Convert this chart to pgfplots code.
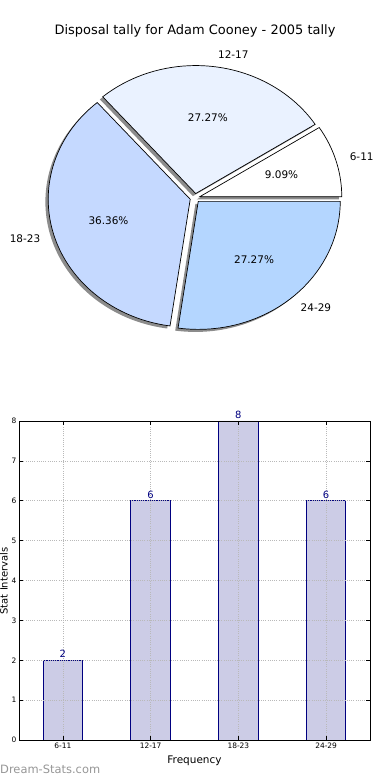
\documentclass[border=0pt]{standalone}
\usepackage{fontspec}
\setmainfont{DejaVu Sans}
\usepackage{pgfplots}
\usepackage{pgfplotstable}
\pgfplotsset{compat=1.18}

\definecolor{pA}{RGB}{255,255,255}
\definecolor{pB}{RGB}{234,242,255}
\definecolor{pC}{RGB}{197,217,255}
\definecolor{pD}{RGB}{180,214,255}
\definecolor{shadowgray}{RGB}{140,140,140}
\definecolor{barfill}{RGB}{204,204,230}
\definecolor{navyc}{RGB}{0,0,128}
\definecolor{gridc}{RGB}{185,185,185}
\definecolor{wmark}{RGB}{150,150,150}

\newcommand\fs[1]{\fontsize{#1}{#1}\selectfont}
\tikzset{pielab/.style={font=\fs{10.5}, inner sep=0pt}}

\pgfplotstableread{
idx label value
0 6-11 2
1 12-17 6
2 18-23 8
3 24-29 6
}\datatable

\newcommand\explode{0.035}
% shadow of a wedge
\newcommand\pieshadow[2]{%
  \pgfmathsetmacro\pmid{(#1+#2)/2}%
  \pgfmathsetmacro\pcx{\explode*cos(\pmid)-0.02}%
  \pgfmathsetmacro\pcy{\explode*sin(\pmid)-0.02}%
  \pgfmathsetmacro\psx{\pcx+cos(#1)}%
  \pgfmathsetmacro\psy{\pcy+sin(#1)}%
  \edef\temp{\noexpand\fill[shadowgray] (axis cs:\pcx,\pcy) -- (axis cs:\psx,\psy) arc[start angle=#1,end angle=#2,x radius=142bp,y radius=128bp] -- cycle;}%
  \temp}
% wedge
\newcommand\piewedge[3]{%
  \pgfmathsetmacro\pmid{(#1+#2)/2}%
  \pgfmathsetmacro\pcx{\explode*cos(\pmid)}%
  \pgfmathsetmacro\pcy{\explode*sin(\pmid)}%
  \pgfmathsetmacro\psx{\pcx+cos(#1)}%
  \pgfmathsetmacro\psy{\pcy+sin(#1)}%
  \edef\temp{\noexpand\filldraw[fill=#3,draw=black,line width=0.7bp,line join=miter] (axis cs:\pcx,\pcy) -- (axis cs:\psx,\psy) arc[start angle=#1,end angle=#2,x radius=142bp,y radius=128bp] -- cycle;}%
  \temp}
% labels: start, end, anchor, label, percent value
\newcommand\pielabel[5]{%
  \pgfmathsetmacro\pmid{(#1+#2)/2}%
  \pgfmathsetmacro\plx{(\explode+1.1)*cos(\pmid)}%
  \pgfmathsetmacro\ply{(\explode+1.1)*sin(\pmid)}%
  \pgfmathsetmacro\ppx{(\explode+0.6)*cos(\pmid)}%
  \pgfmathsetmacro\ppy{(\explode+0.6)*sin(\pmid)}%
  \edef\temp{\noexpand\node[pielab,anchor=#3] at (axis cs:\plx,\ply) {#4};
    \noexpand\node[pielab] at (axis cs:\ppx,\ppy) {\noexpand\pgfmathprintnumber[fixed,precision=2,fixed zerofill,assume math mode=true]{#5}\noexpand\%};}%
  \temp}

\begin{document}
\pgfplotstablegetelem{0}{value}\of\datatable\edef\vA{\pgfplotsretval}%
\pgfplotstablegetelem{1}{value}\of\datatable\edef\vB{\pgfplotsretval}%
\pgfplotstablegetelem{2}{value}\of\datatable\edef\vC{\pgfplotsretval}%
\pgfplotstablegetelem{3}{value}\of\datatable\edef\vD{\pgfplotsretval}%
\pgfmathsetmacro\tot{\vA+\vB+\vC+\vD}%
\pgfmathsetmacro\aA{360*\vA/\tot}%
\pgfmathsetmacro\aB{\aA+360*\vB/\tot}%
\pgfmathsetmacro\aC{\aB+360*\vC/\tot}%
\pgfmathsetmacro\pA{100*\vA/\tot}%
\pgfmathsetmacro\pB{100*\vB/\tot}%
\pgfmathsetmacro\pC{100*\vC/\tot}%
\pgfmathsetmacro\pD{100*\vD/\tot}%
\begin{tikzpicture}[x=1bp,y=1bp]
\path[use as bounding box] (0,0) rectangle (390,780);

% title
\node[anchor=base, font=\fs{13}, inner sep=0pt] at (195,745.5) {Disposal tally for Adam Cooney - 2005 tally};

% pie
\begin{axis}[at={(53bp,454bp)}, anchor=south west, scale only axis,
  width=284bp, height=256bp, xmin=-1, xmax=1, ymin=-1, ymax=1,
  hide axis, clip=false]
  \pieshadow{0}{\aA}
  \pieshadow{\aA}{\aB}
  \pieshadow{\aB}{\aC}
  \pieshadow{\aC}{360}
  \piewedge{0}{\aA}{pA}
  \piewedge{\aA}{\aB}{pB}
  \piewedge{\aB}{\aC}{pC}
  \piewedge{\aC}{360}{pD}
  \pielabel{0}{\aA}{west}{6-11}{\pA}
  \pielabel{\aA}{\aB}{west}{12-17}{\pB}
  \pielabel{\aB}{\aC}{east}{18-23}{\pC}
  \pielabel{\aC}{360}{west}{24-29}{\pD}
\end{axis}

% bar chart
\begin{axis}[at={(19bp,40bp)}, anchor=south west, scale only axis,
  width=351bp, height=319bp,
  xmin=-0.5, xmax=3.5, ymin=0, ymax=8,
  xtick={0,1,2,3}, xticklabels={6-11,12-17,18-23,24-29},
  ytick={0,1,2,3,4,5,6,7,8},
  grid=major,
  major grid style={gridc, line width=0.6bp, dash pattern=on 1bp off 1.2bp},
  axis on top,
  tick align=inside, xtick pos=both, ytick pos=both,
  major tick length=4bp,
  tick style={black, line width=0.5bp},
  axis line style={line width=0.9bp},
  ticklabel style={font=\fs{7.5}},
  xticklabel style={yshift=1bp},
  yticklabel style={xshift=1bp},
  /pgf/number format/assume math mode=true,
  xlabel={Frequency},
  xlabel style={font=\fs{10.5}, at={(axis description cs:0.5,0)}, anchor=base, yshift=-23.5bp, inner sep=0pt},
  nodes near coords,
  every node near coord/.append style={font=\fs{10}, text=navyc, inner sep=2bp},
  clip=false]
  \addplot[ybar, bar width=0.45, fill=barfill, draw=navyc, line width=0.8bp]
    table[x=idx, y=value] {\datatable};
\end{axis}

\node[rotate=90, anchor=base, font=\fs{10}, inner sep=0pt] at (7.5,199) {Stat Intervals};
\node[anchor=base west, font=\fs{11.5}, text=wmark, inner sep=0pt] at (0,6) {Dream-Stats.com};
\end{tikzpicture}
\end{document}
